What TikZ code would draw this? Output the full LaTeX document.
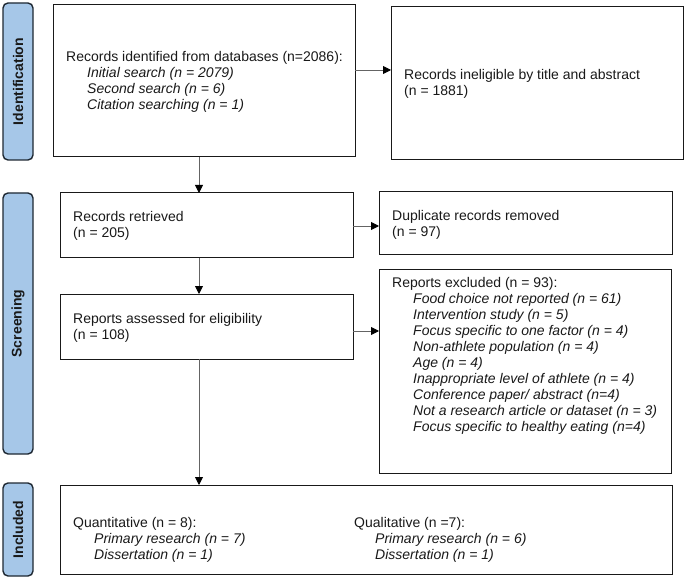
\documentclass[tikz,border=0pt]{standalone}
\usepackage{fontspec}
\setmainfont{Liberation Sans}
\usetikzlibrary{arrows.meta}
\definecolor{sideblue}{RGB}{166,199,232}
\definecolor{sideline}{RGB}{30,40,50}
\definecolor{arrowgray}{RGB}{100,100,100}
\tikzset{
  box/.style={draw=black!90, line width=1pt, anchor=north west, inner sep=0pt, outer sep=0pt},
  side/.style={draw=sideline, fill=sideblue, line width=1.4pt, rounded corners=5pt, anchor=north west, inner sep=0pt, outer sep=0pt},
  sidetext/.style={rotate=90, font=\fontsize{14}{16}\selectfont\bfseries, text=black!90, inner sep=0pt},
  txt/.style={align=left, inner sep=0pt, font=\fontsize{14}{16}\selectfont, text=black!90},
  flow/.style={draw=arrowgray, line width=0.9pt, -{Triangle[color=black, length=8pt, width=8pt]}}
}
\newcommand{\ind}{\hspace*{21pt}}
\begin{document}
\begin{tikzpicture}[x=1pt, y=-1pt]
\useasboundingbox (0,0) rectangle (685,577);
% sidebars
\node[side, minimum width=30pt, minimum height=157pt] (sideid) at (3,3) {};
\node[sidetext] (sideidt) at (sideid.center) {Identification};
\node[side, minimum width=30pt, minimum height=261pt] (sidescr) at (3,193) {};
\node[sidetext] (sidescrt) at (sidescr.center) {Screening};
\node[side, minimum width=30pt, minimum height=93pt] (sideinc) at (3,483) {};
\node[sidetext] (sideinct) at (sideinc.center) {Included};
% boxes
\node[box, minimum width=302pt, minimum height=152pt] (ident) at (53,5) {};
\node[box, minimum width=292pt, minimum height=153pt] (inel) at (391,7) {};
\node[box, minimum width=293pt, minimum height=65pt] (ret) at (60,193) {};
\node[box, minimum width=293pt, minimum height=65pt] (ass) at (60,294) {};
\node[box, minimum width=293pt, minimum height=63pt] (dup) at (379,192) {};
\node[box, minimum width=292pt, minimum height=203pt] (excl) at (379,270) {};
\node[box, minimum width=612pt, minimum height=89pt] (inc) at (60,485) {};
% texts
\node[txt, anchor=west] (identt) at (66,82) {Records identified from databases (n=2086):\\
\ind\textit{Initial search (n = 2079)}\\
\ind\textit{Second search (n = 6)}\\
\ind\textit{Citation searching (n = 1)}};
\node[txt, anchor=west] (inelt) at (404,84) {Records ineligible by title and abstract\\(n = 1881)};
\node[txt, anchor=west] (rett) at (73,226) {Records retrieved\\(n = 205)};
\node[txt, anchor=west] (asst) at (73,328) {Reports assessed for eligibility\\(n = 108)};
\node[txt, anchor=west] (dupt) at (392,225) {Duplicate records removed\\(n = 97)};
\node[txt, anchor=north west] (exclt) at (392,277) {Reports excluded (n = 93):\\
\ind\textit{Food choice not reported (n = 61)}\\
\ind\textit{Intervention study (n = 5)}\\
\ind\textit{Focus specific to one factor (n = 4)}\\
\ind\textit{Non-athlete population (n = 4)}\\
\ind\textit{Age (n = 4)}\\
\ind\textit{Inappropriate level of athlete (n = 4)}\\
\ind\textit{Conference paper/ abstract (n=4)}\\
\ind\textit{Not a research article or dataset (n = 3)}\\
\ind\textit{Focus specific to healthy eating (n=4)}};
\node[txt, anchor=west] (quant) at (73,540) {Quantitative (n = 8):\\
\ind\textit{Primary research (n = 7)}\\
\ind\textit{Dissertation (n = 1)}};
\node[txt, anchor=west] (qual) at (354,540) {Qualitative (n =7):\\
\ind\textit{Primary research (n = 6)}\\
\ind\textit{Dissertation (n = 1)}};
% connectors
\coordinate (vx) at (199,0);
\coordinate (h1) at (0,70);
\coordinate (h2) at (0,226);
\coordinate (h3) at (0,331);
\draw[flow] (ident.south -| vx) -- (ret.north -| vx);
\draw[flow] (ret.south -| vx) -- (ass.north -| vx);
\draw[flow] (ass.south -| vx) -- (inc.north -| vx);
\draw[flow] (ident.east |- h1) -- (inel.west |- h1);
\draw[flow] (ret.east |- h2) -- (dup.west |- h2);
\draw[flow] (ass.east |- h3) -- (excl.west |- h3);
\end{tikzpicture}
\end{document}
